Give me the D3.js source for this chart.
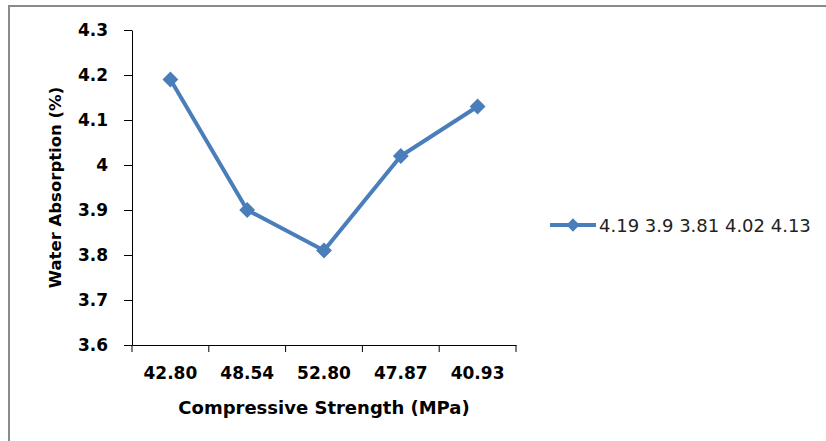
<!DOCTYPE html>
<html>
<head>
<meta charset="utf-8">
<style>
body { margin: 0; background: #fff; }
svg { display: block; }
.tick text { font-family: "DejaVu Sans", sans-serif; font-weight: bold; font-size: 17px; fill: #000; }
.axis path, .axis line { stroke: #000; stroke-width: 1; }
.title { font-family: "DejaVu Sans", sans-serif; font-weight: bold; font-size: 18px; fill: #000; }
.ytitle { font-size: 16.5px; }
.legend text { font-family: "DejaVu Sans", sans-serif; font-size: 18px; fill: #222; }
</style>
</head>
<body>
<svg width="826" height="441"></svg>
<script src="https://d3js.org/d3.v7.min.js"></script>
<script>
// data
var strengths = ["42.80", "48.54", "52.80", "47.87", "40.93"];
var absorption = [4.19, 3.9, 3.81, 4.02, 4.13];
var yTicks = [3.6, 3.7, 3.8, 3.9, 4, 4.1, 4.2, 4.3];
var seriesName = "4.19 3.9 3.81 4.02 4.13";

var svg = d3.select("svg");
var color = "#4a7ebb";

// outer chart frame (only top and left visible in the crop)
svg.append("path")
  .attr("d", "M9,441 V6 H826")
  .attr("fill", "none")
  .attr("stroke", "#8a8a8a")
  .attr("stroke-width", 2);

var plotLeft = 132, plotRight = 516, plotTop = 30, plotBottom = 345;

var x = d3.scaleBand().domain(strengths).range([plotLeft, plotRight]);
var y = d3.scaleLinear().domain([3.6, 4.3]).range([plotBottom, plotTop]);

// y axis
svg.append("g")
  .attr("class", "axis")
  .attr("transform", "translate(" + plotLeft + ",0)")
  .call(d3.axisLeft(y).tickValues(yTicks).tickSize(8).tickSizeOuter(0).tickPadding(16)
    .tickFormat(function(d) { return String(+d.toFixed(1)); }));

// x axis
var xAxis = svg.append("g")
  .attr("class", "axis")
  .attr("transform", "translate(0," + plotBottom + ")")
  .call(d3.axisBottom(x).tickSize(0).tickPadding(22));

// ticks between categories
xAxis.selectAll(".sep")
  .data(d3.range(strengths.length + 1))
  .enter().append("line")
  .attr("x1", function(i) { return plotLeft + i * x.bandwidth(); })
  .attr("x2", function(i) { return plotLeft + i * x.bandwidth(); })
  .attr("y1", 0).attr("y2", 7)
  .attr("stroke", "#000");

// line
var line = d3.line()
  .x(function(d, i) { return x(strengths[i]) + x.bandwidth() / 2; })
  .y(function(d) { return y(d); });

svg.append("path")
  .datum(absorption)
  .attr("d", line)
  .attr("fill", "none")
  .attr("stroke", color)
  .attr("stroke-width", 4)
  .attr("stroke-linejoin", "round");

var diamond = d3.symbol().type(d3.symbolDiamond2).size(160);

svg.append("g").selectAll("path")
  .data(absorption)
  .enter().append("path")
  .attr("d", diamond)
  .attr("fill", color)
  .attr("transform", function(d, i) {
    return "translate(" + (x(strengths[i]) + x.bandwidth() / 2) + "," + y(d) + ")";
  });

// axis titles
svg.append("text")
  .attr("class", "title")
  .attr("x", (plotLeft + plotRight) / 2)
  .attr("y", 414)
  .attr("text-anchor", "middle")
  .text("Compressive Strength (MPa)");

svg.append("text")
  .attr("class", "title ytitle")
  .attr("transform", "translate(61," + (plotTop + plotBottom) / 2 + ") rotate(-90)")
  .attr("text-anchor", "middle")
  .text("Water Absorption (%)");

// legend
var lg = svg.append("g").attr("class", "legend").attr("transform", "translate(550,225)");
lg.append("line").attr("x1", 0).attr("x2", 46).attr("y1", 0).attr("y2", 0)
  .attr("stroke", color).attr("stroke-width", 4);
lg.append("path").attr("d", d3.symbol().type(d3.symbolDiamond2).size(112))
  .attr("fill", color).attr("transform", "translate(23,0)");
lg.append("text").attr("x", 49).attr("y", 7).text(seriesName);
</script>
</body>
</html>
